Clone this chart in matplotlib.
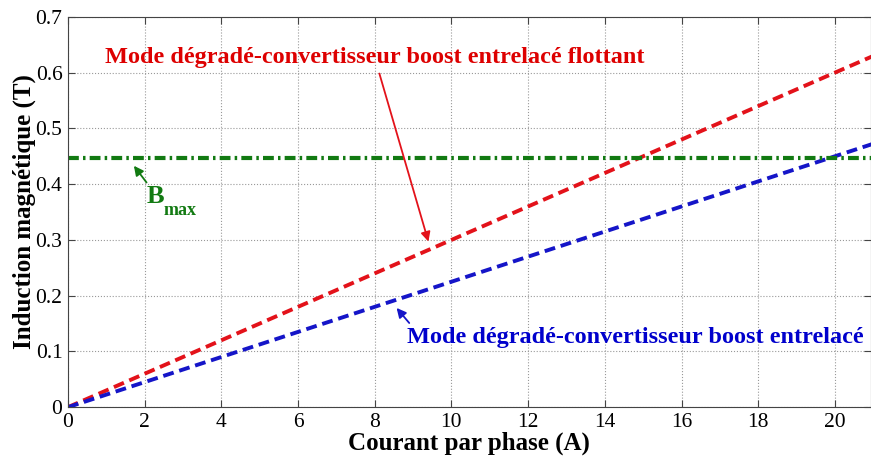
import numpy as np
import matplotlib
matplotlib.use('Agg')
import matplotlib.pyplot as plt

# values
current = [0, 21]                  # Courant par phase (A)
b_flottant = [0, 0.63]             # boost entrelace flottant (T)
b_entrelace = [0, 0.4725]          # boost entrelace (T)
b_max = 0.447
x_ticks = [0, 2, 4, 6, 8, 10, 12, 14, 16, 18, 20]
y_ticks = [0, 0.1, 0.2, 0.3, 0.4, 0.5, 0.6, 0.7]

plt.rcParams['font.family'] = ['Liberation Serif', 'DejaVu Serif']

fig = plt.figure(figsize=(8.71, 4.57), dpi=100)
ax = fig.add_axes([0.078, 0.109, 0.9215, 0.854])

red = '#e3121a'
blue = '#1515c8'
green = '#127a12'

ax.plot(current, b_flottant, color=red, lw=2.8, dashes=(2.8, 1.5))
ax.plot(current, b_entrelace, color=blue, lw=2.8, dashes=(2.8, 1.5))
ax.axhline(b_max, color=green, lw=3.0, dashes=(2.6, 1.0, 0.6, 1.0))

ax.set_xlim(0, 20.93)
ax.set_ylim(0, 0.7)
ax.set_xticks(x_ticks)
ax.set_yticks(y_ticks)
ax.set_yticklabels(['0', '0.1', '0.2', '0.3', '0.4', '0.5', '0.6', '0.7'])
ax.tick_params(direction='in', top=True, right=True, labelsize=15.5, length=5,
               color='#444444')
ax.tick_params(axis='x', pad=4)
ax.tick_params(axis='y', pad=4)
ax.grid(True, linestyle=':', color='#999999', lw=0.8)
for s in ax.spines.values():
    s.set_color('#444444')

ax.set_xlabel('Courant par phase (A)', fontsize=18, fontweight='bold', labelpad=0)
ax.set_ylabel('Induction magnétique (T)', fontsize=18, fontweight='bold', labelpad=0)

# annotations
ax.annotate('Mode dégradé-convertisseur boost entrelacé flottant',
            xy=(9.4, 0.297), xytext=(8.0, 0.627),
            fontsize=17.5, fontweight='bold', color='#dd0000', ha='center', va='center',
            arrowprops=dict(arrowstyle='-|>', color=red, lw=1.3,
                            shrinkA=2, shrinkB=0, mutation_scale=14))
ax.text(8.85, 0.1257, 'Mode dégradé-convertisseur boost entrelacé',
        fontsize=17.5, fontweight='bold', color='#0000cc', ha='left', va='center')
ax.annotate('', xy=(8.57, 0.178), xytext=(8.9, 0.151),
            arrowprops=dict(arrowstyle='-|>', color=blue, lw=1.3,
                            shrinkA=0, shrinkB=0, mutation_scale=14))
ax.annotate('', xy=(1.72, 0.433), xytext=(2.05, 0.403),
            arrowprops=dict(arrowstyle='-|>', color=green, lw=1.3,
                            shrinkA=0, shrinkB=0, mutation_scale=14))
ax.text(2.05, 0.377, 'B', fontsize=19, fontweight='bold', color=green,
        ha='left', va='center')
ax.text(2.5, 0.352, 'max', fontsize=13, fontweight='bold', color=green,
        ha='left', va='center')

fig.savefig('out.png', dpi=100)
